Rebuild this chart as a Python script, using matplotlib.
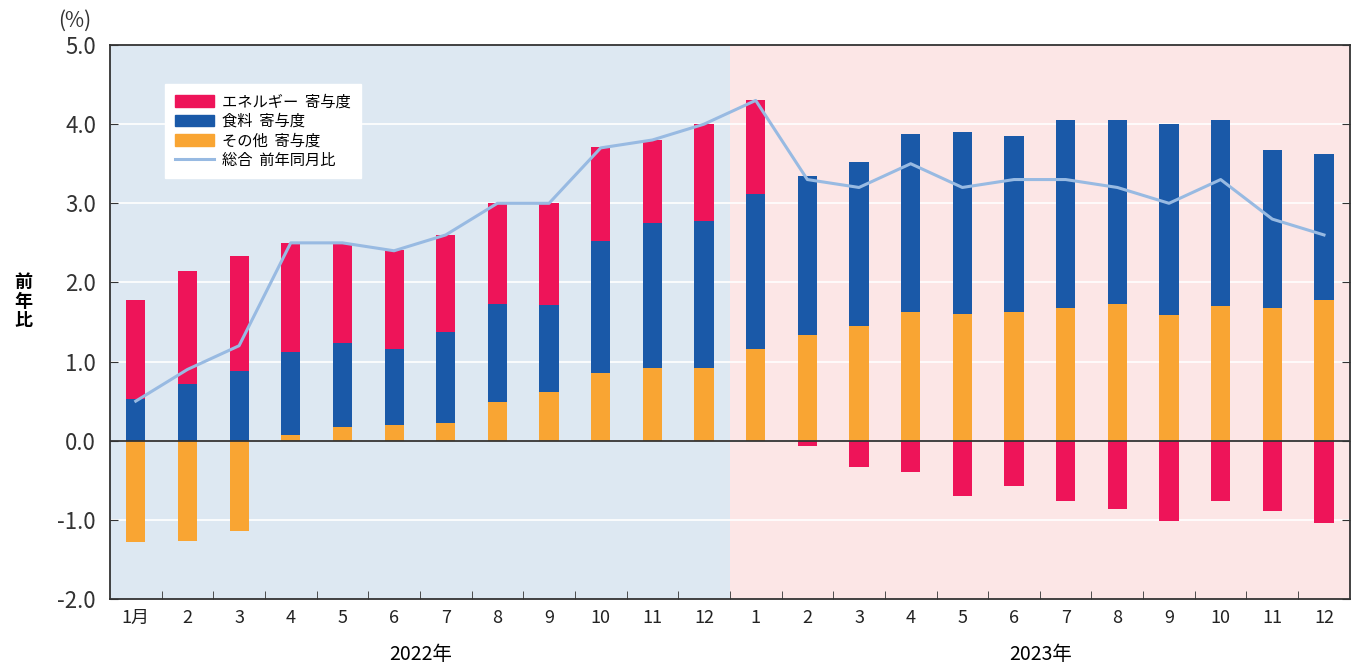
import numpy as np
import matplotlib
matplotlib.use("Agg")
import matplotlib.pyplot as plt
from matplotlib.patches import Patch
from matplotlib.lines import Line2D

plt.rcParams['font.family'] = ['Noto Sans CJK JP', 'DejaVu Sans']

# months: 2022/1 .. 2023/12
month_labels = ["1月"] + [str(m) for m in range(2, 13)] + [str(m) for m in range(1, 13)]

# contributions (percentage points)
energy = [1.25, 1.42, 1.45, 1.38, 1.27, 1.25, 1.23, 1.27, 1.29, 1.19, 1.05, 1.23,
          1.19, -0.07, -0.33, -0.40, -0.70, -0.57, -0.76, -0.86, -1.01, -0.76, -0.89, -1.04]
food = [0.53, 0.72, 0.88, 1.05, 1.06, 0.96, 1.15, 1.24, 1.10, 1.67, 1.83, 1.85,
        1.96, 2.02, 2.07, 2.24, 2.30, 2.22, 2.37, 2.32, 2.41, 2.35, 1.99, 1.84]
other = [-1.28, -1.27, -1.14, 0.07, 0.17, 0.20, 0.22, 0.49, 0.61, 0.85, 0.92, 0.92,
         1.16, 1.33, 1.45, 1.63, 1.60, 1.63, 1.68, 1.73, 1.59, 1.70, 1.68, 1.78]
total = [0.5, 0.9, 1.2, 2.5, 2.5, 2.4, 2.6, 3.0, 3.0, 3.7, 3.8, 4.0,
         4.3, 3.3, 3.2, 3.5, 3.2, 3.3, 3.3, 3.2, 3.0, 3.3, 2.8, 2.6]

c_energy = "#EE1459"
c_food = "#1A59A8"
c_other = "#F9A533"
c_line = "#98BAE2"

energy = np.array(energy)
food = np.array(food)
other = np.array(other)
x = np.arange(len(month_labels))

fig = plt.figure(figsize=(13.57, 6.62), dpi=100)
ax = fig.add_axes([0.081, 0.0952, 0.9137, 0.8368])

# background shading per year
ax.axvspan(-0.5, 11.5, color="#DDE8F2", zorder=0, lw=0)
ax.axvspan(11.5, 23.5, color="#FCE6E6", zorder=0, lw=0)
for yv in np.arange(-1, 5, 1.0):
    ax.axhline(yv, color="white", lw=1.2, zorder=1)

w = 0.37
# stack positive parts upward, negative parts downward
pos_base = np.zeros(len(x))
neg_base = np.zeros(len(x))
for vals, col in [(other, c_other), (food, c_food), (energy, c_energy)]:
    p = np.where(vals > 0, vals, 0)
    n = np.where(vals < 0, vals, 0)
    ax.bar(x, p, w, bottom=pos_base, color=col, zorder=2, lw=0)
    ax.bar(x, n, w, bottom=neg_base, color=col, zorder=2, lw=0)
    pos_base += p
    neg_base += n

ax.axhline(0, color="#333333", lw=1.3, zorder=3)
ax.plot(x, total, color=c_line, lw=2.2, zorder=4)

ax.set_xlim(-0.5, 23.5)
ax.set_ylim(-2.0, 5.0)
yt = np.arange(-2, 5.1, 1.0)
ax.set_yticks(yt)
ax.set_yticklabels([f"{v:.1f}" for v in yt], fontsize=16, color="#333333")
ax.set_xticks(x)
ax.set_xticklabels(month_labels, fontsize=13, color="#222222")
ax.set_xticks(np.arange(0.5, 23, 1.0), minor=True)
ax.tick_params(axis="x", which="major", length=0, pad=7)
ax.tick_params(axis="x", which="minor", direction="in", length=6, color="#333333")
ax.tick_params(axis="y", direction="in", length=6, right=True, color="#333333", pad=10)
for s in ax.spines.values():
    s.set_color("#333333")
    s.set_linewidth(1.3)

fig.text(0.055, 0.968, "(%)", fontsize=15, ha="center", va="center", color="#333333")
fig.text(0.017, 0.545, "前\n年\n比", fontsize=13, fontweight="bold", ha="center", va="center",
         linespacing=1.0)
fig.text(0.31, 0.012, "2022年", fontsize=14, ha="center", va="center")
fig.text(0.767, 0.012, "2023年", fontsize=14, ha="center", va="center")

handles = [Patch(color=c_energy), Patch(color=c_food), Patch(color=c_other),
           Line2D([0], [0], color=c_line, lw=2.2)]
labels = ["エネルギー  寄与度", "食料  寄与度", "その他  寄与度", "総合  前年同月比"]
leg = ax.legend(handles, labels, loc="upper left", bbox_to_anchor=(0.038, 0.944),
                fontsize=11, frameon=True, fancybox=False, edgecolor="white",
                framealpha=1, handlelength=2.6, handleheight=0.8, labelspacing=0.15,
                borderpad=0.65, handletextpad=0.5)
leg.set_zorder(5)

fig.savefig("out.png", dpi=100)
